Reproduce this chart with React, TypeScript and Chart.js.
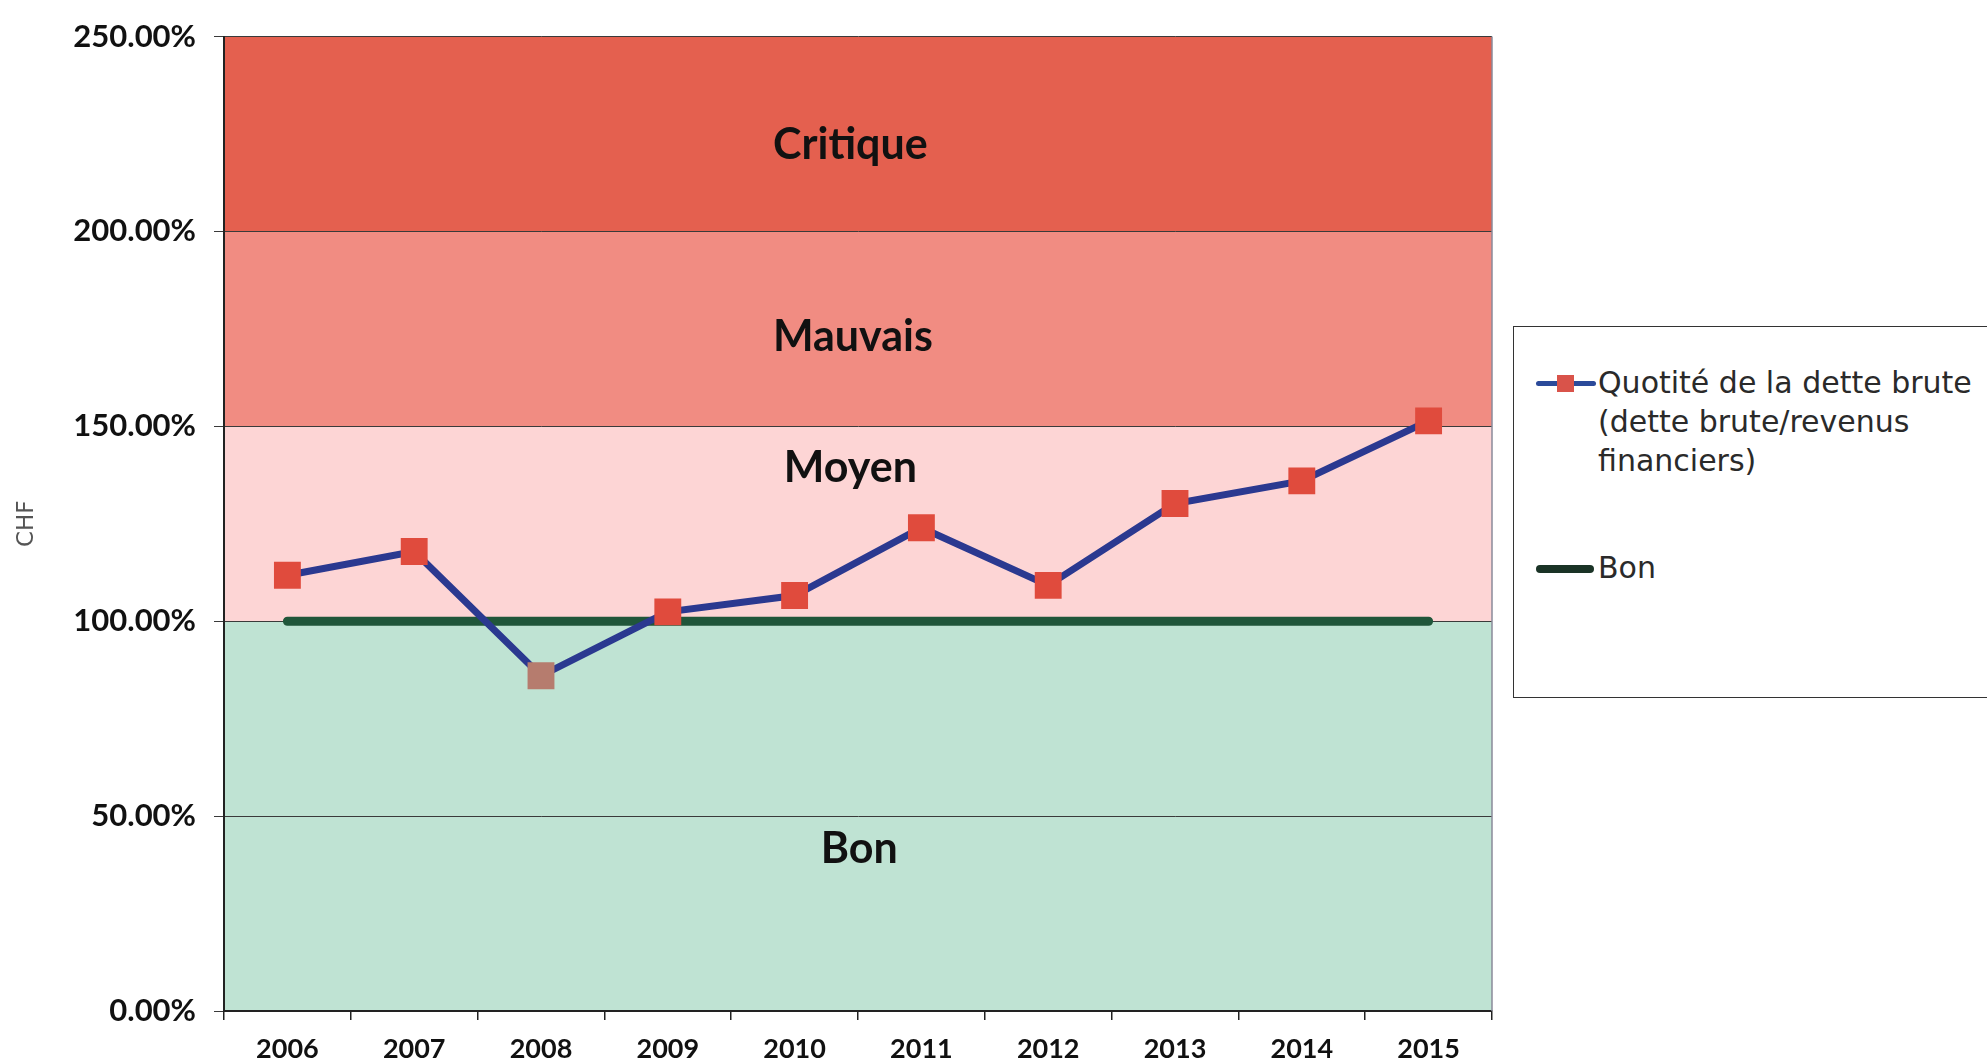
import React, { useEffect, useRef } from 'react';
import { Chart, registerables } from 'chart.js';

Chart.register(...registerables);

// ---- data ----
const years = ['2006', '2007', '2008', '2009', '2010', '2011', '2012', '2013', '2014', '2015'];
const quotite = [111.8, 117.9, 86.0, 102.4, 106.6, 124.0, 109.2, 130.2, 136.0, 151.4];
const bonLevel = [100, 100, 100, 100, 100, 100, 100, 100, 100, 100];
const bandBounds = [0, 100, 150, 200, 250];
const bandNames = ['Bon', 'Moyen', 'Mauvais', 'Critique'];
const seriesLabel = 'Quotité de la dette brute (dette brute/revenus financiers)';
const bonLabel = 'Bon';
const yAxisTitle = 'CHF';

// ---- styles ----
const bandColors = ['#bfe3d3', '#fdd5d5', '#f18c82', '#e4604f'];
const bandLabelAnchors = [37.9, 135.8, 169.4, 218.5]; // value of text baseline
const bandLabelXFrac = [0.501, 0.494, 0.496, 0.494];
const markerColors = ['#e04b3d', '#e04b3d', '#b67c6e', '#e04b3d', '#e04b3d', '#e04b3d', '#e04b3d', '#e04b3d', '#e04b3d', '#e04b3d'];

const bandsPlugin = {
  id: 'bands',
  beforeDraw(chart: any) {
    const { ctx, chartArea, scales } = chart;
    const y = scales.y;
    const w = chartArea.right - chartArea.left;
    ctx.save();
    for (let i = 0; i < bandNames.length; i++) {
      const top = y.getPixelForValue(bandBounds[i + 1]);
      const bottom = y.getPixelForValue(bandBounds[i]);
      ctx.fillStyle = bandColors[i];
      ctx.fillRect(chartArea.left, top, w, bottom - top);
    }
    ctx.font = 'bold 43px Lato';
    ctx.textAlign = 'center';
    ctx.textBaseline = 'alphabetic';
    ctx.fillStyle = '#111';
    for (let i = 0; i < bandNames.length; i++) {
      ctx.fillText(bandNames[i], chartArea.left + w * bandLabelXFrac[i], y.getPixelForValue(bandLabelAnchors[i]));
    }
    ctx.restore();
  },
  afterDraw(chart: any) {
    const { ctx, chartArea } = chart;
    ctx.save();
    ctx.strokeStyle = '#8a8a9a';
    ctx.lineWidth = 1.5;
    ctx.beginPath();
    ctx.moveTo(chartArea.right, chartArea.top);
    ctx.lineTo(chartArea.right, chartArea.bottom);
    ctx.stroke();
    ctx.restore();
  },
};

export default function App() {
  const ref = useRef<HTMLCanvasElement | null>(null);

  useEffect(() => {
    if (!ref.current) return;
    const chart = new Chart(ref.current, {
      type: 'line',
      data: {
        labels: years,
        datasets: [
          {
            label: seriesLabel,
            data: quotite,
            borderColor: '#2b3990',
            borderWidth: 7,
            pointStyle: 'rect',
            pointRadius: 19,
            pointHoverRadius: 19,
            pointBackgroundColor: markerColors,
            pointBorderColor: markerColors,
            pointBorderWidth: 0,
            tension: 0,
            order: 0,
          },
          {
            label: bonLabel,
            data: bonLevel,
            borderColor: '#20563a',
            borderWidth: 9,
            borderCapStyle: 'round',
            pointRadius: 0,
            tension: 0,
            order: 1,
          },
        ],
      },
      options: {
        responsive: false,
        animation: false,
        events: [],
        layout: { padding: { left: 0, top: 28, right: 495, bottom: 0 } },
        plugins: {
          legend: { display: false },
          tooltip: { enabled: false },
        },
        scales: {
          x: {
            offset: true,
            grid: { offset: true, drawOnChartArea: false, tickLength: 9, color: '#222', lineWidth: 1.5 },
            border: { color: '#222', width: 2 },
            ticks: { font: { family: 'Lato', weight: 'bold', size: 27 }, color: '#111', padding: 13, maxRotation: 0 },
            afterFit: (s: any) => { s.height = 52; },
          },
          y: {
            min: 0,
            max: 250,
            ticks: {
              stepSize: 50,
              callback: (v: any) => Number(v).toFixed(2) + '%',
              font: { family: 'Lato', weight: 'bold', size: 31 },
              color: '#111',
              padding: 18,
            },
            grid: { color: '#3a3a3a', lineWidth: 1, tickLength: 10 },
            border: { color: '#222', width: 2 },
            title: {
              display: true,
              text: yAxisTitle,
              font: { family: 'DejaVu Sans', size: 23 },
              color: '#555',
              padding: { top: 13, bottom: 0 },
            },
            afterFit: (s: any) => { s.width = 224; },
          },
        },
      },
      plugins: [bandsPlugin],
    } as any);
    return () => chart.destroy();
  }, []);

  return (
    <div style={{ position: 'fixed', left: 0, top: 0, width: 1987, height: 1063, overflow: 'hidden', background: '#fff' }}>
      <canvas ref={ref} width={1987} height={1063} style={{ position: 'absolute', left: 0, top: 0, width: 1987, height: 1063 }} />
      <div
        style={{
          position: 'absolute', left: 1513, top: 326, width: 520, height: 372,
          border: '1.5px solid #333', boxSizing: 'border-box', background: '#fff',
          fontFamily: '"DejaVu Sans"', fontSize: 30, lineHeight: '39px', color: '#2a2a2a',
        }}
      >
        <div style={{ position: 'absolute', left: 22, top: 54, width: 60, height: 5, borderRadius: 3, background: '#2b4a9a' }} />
        <div style={{ position: 'absolute', left: 43, top: 48, width: 17, height: 17, background: '#d9534a' }} />
        <div style={{ position: 'absolute', left: 84, top: 36, whiteSpace: 'nowrap' }}>
          Quotité de la dette brute<br />(dette brute/revenus<br />financiers)
        </div>
        <div style={{ position: 'absolute', left: 22, top: 238, width: 58, height: 8, borderRadius: 4, background: '#1a3326' }} />
        <div style={{ position: 'absolute', left: 84, top: 221, whiteSpace: 'nowrap' }}>{bonLabel}</div>
      </div>
    </div>
  );
}
